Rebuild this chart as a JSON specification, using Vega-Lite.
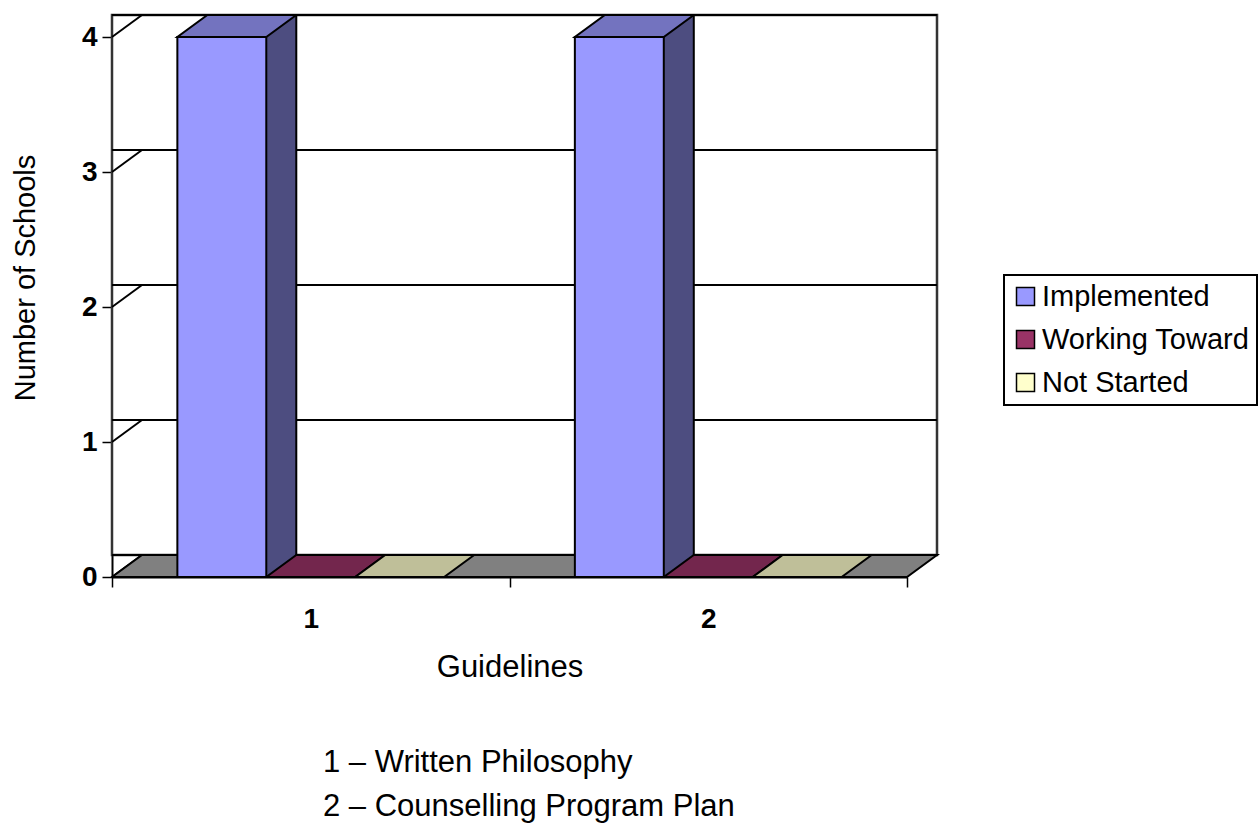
{
  "$schema": "https://vega.github.io/schema/vega-lite/v6.json",
  "width": 795,
  "height": 540,
  "autosize": {"type": "none"},
  "padding": {"left": 112, "top": 37, "right": 352, "bottom": 248},
  "background": "white",
  "datasets": {
    "schools": [
      {"guideline": "1", "status": "Implemented", "count": 4},
      {"guideline": "1", "status": "Working Toward", "count": 0},
      {"guideline": "1", "status": "Not Started", "count": 0},
      {"guideline": "2", "status": "Implemented", "count": 4},
      {"guideline": "2", "status": "Working Toward", "count": 0},
      {"guideline": "2", "status": "Not Started", "count": 0}
    ],
    "levels": [
      {"level": 0}, {"level": 1}, {"level": 2}, {"level": 3}, {"level": 4}
    ]
  },
  "title": {
    "text": ["1 – Written Philosophy", "2 – Counselling Program Plan"],
    "orient": "bottom",
    "anchor": "start",
    "frame": "group",
    "align": "left",
    "baseline": "top",
    "dx": 211,
    "offset": 66,
    "fontSize": 31,
    "fontWeight": "normal",
    "font": "Liberation Sans",
    "color": "black",
    "lineHeight": 43.5
  },
  "layer": [
    {
      "data": {"name": "levels"},
      "transform": [{"filter": "datum.level == 4"}],
      "mark": {"type": "rect", "fill": "white", "stroke": "#333333", "strokeWidth": 2.5, "xOffset": 30, "x2Offset": 30, "yOffset": -22, "y2Offset": -22},
      "encoding": {
        "y": {"field": "level", "type": "quantitative", "title": "Number of Schools", "scale": {"domain": [0, 4], "nice": false}},
        "y2": {"datum": 0}
      }
    },
    {
      "data": {"name": "levels"},
      "mark": {"type": "rule", "stroke": "black", "strokeWidth": 2, "xOffset": 30, "x2Offset": 30, "yOffset": -22, "y2Offset": -22},
      "encoding": {
        "y": {"field": "level", "type": "quantitative", "title": "Number of Schools"}
      }
    },
    {
      "data": {"name": "levels"},
      "mark": {"type": "point", "shape": "M0,0 L30,-22", "size": 4, "filled": false, "stroke": "black", "strokeWidth": 2, "opacity": 1},
      "encoding": {
        "x": {"datum": "1", "type": "nominal", "bandPosition": 0, "title": "Guidelines"},
        "y": {"field": "level", "type": "quantitative", "title": "Number of Schools"}
      }
    },
    {
      "data": {"name": "levels"},
      "transform": [{"filter": "datum.level == 0"}],
      "mark": {"type": "point", "shape": "M0,0 L795,0 L825,-22 L30,-22 Z", "size": 4, "filled": true, "fill": "#808080", "stroke": "black", "strokeWidth": 2, "opacity": 1},
      "encoding": {
        "x": {"datum": "1", "type": "nominal", "bandPosition": 0, "title": "Guidelines"},
        "y": {"field": "level", "type": "quantitative", "title": "Number of Schools"}
      }
    },
    {
      "data": {"name": "schools"},
      "transform": [{"filter": "datum.count > 0"}],
      "mark": {"type": "bar", "stroke": "black", "strokeWidth": 2, "yOffset": -22},
      "encoding": {
        "x": {"field": "guideline", "type": "nominal", "title": "Guidelines"},
        "xOffset": {"field": "status", "type": "nominal", "scale": {"type": "band", "domain": ["Implemented", "Working Toward", "Not Started"], "range": [30, 427.5], "paddingInner": 0, "paddingOuter": 0.735}},
        "y": {"field": "count", "type": "quantitative", "stack": null, "title": "Number of Schools"},
        "fill": {"field": "status", "type": "nominal", "scale": {"domain": ["Implemented", "Working Toward", "Not Started"], "range": ["#4D4D80", "#4D1A33", "#808066"]}, "legend": null}
      }
    },
    {
      "data": {"name": "schools"},
      "mark": {"type": "bar", "stroke": "black", "strokeWidth": 2},
      "encoding": {
        "x": {"field": "guideline", "type": "nominal", "title": "Guidelines"},
        "xOffset": {"field": "status", "type": "nominal", "scale": {"type": "band", "domain": ["Implemented", "Working Toward", "Not Started"], "range": [0, 397.5], "paddingInner": 0, "paddingOuter": 0.735}},
        "y": {"field": "count", "type": "quantitative", "stack": null, "title": "Number of Schools"},
        "fill": {"field": "status", "type": "nominal", "scale": {"domain": ["Implemented", "Working Toward", "Not Started"], "range": ["#9999FF", "#993366", "#FFFFCC"]}, "legend": {"title": null}}
      }
    },
    {
      "data": {"name": "schools"},
      "mark": {"type": "point", "shape": "M-44.46,0 L44.46,0 L74.46,-22 L-14.46,-22 Z", "size": 4, "filled": true, "stroke": "black", "strokeWidth": 2, "opacity": 1},
      "encoding": {
        "x": {"field": "guideline", "type": "nominal", "title": "Guidelines"},
        "xOffset": {"field": "status", "type": "nominal", "scale": {"type": "band", "domain": ["Implemented", "Working Toward", "Not Started"], "range": [0, 397.5], "paddingInner": 0, "paddingOuter": 0.735}},
        "y": {"field": "count", "type": "quantitative", "title": "Number of Schools"},
        "fill": {"field": "status", "type": "nominal", "scale": {"domain": ["Implemented", "Working Toward", "Not Started"], "range": ["#7373BF", "#73264D", "#BFBF99"]}, "legend": null}
      }
    }
  ],
  "resolve": {"scale": {"fill": "independent", "xOffset": "independent"}},
  "config": {
    "view": {"stroke": null},
    "font": "Liberation Sans",
    "axis": {
      "domainColor": "black",
      "tickColor": "black",
      "labelColor": "black",
      "titleColor": "black",
      "grid": false,
      "labelFont": "Liberation Sans",
      "titleFont": "Liberation Sans",
      "zindex": 1
    },
    "axisX": {
      "tickBand": "extent",
      "domainWidth": 2,
      "tickWidth": 1.5,
      "tickSize": 10,
      "labelFontSize": 28,
      "labelFontWeight": "bold",
      "labelAngle": 0,
      "labelBaseline": "alphabetic",
      "labelPadding": 40,
      "titleFontSize": 31,
      "titleFontWeight": "normal",
      "titleBaseline": "alphabetic",
      "titleY": 99
    },
    "axisY": {
      "domainWidth": 2,
      "tickWidth": 1.5,
      "tickSize": 10,
      "tickCount": 4,
      "labelFontSize": 28,
      "labelFontWeight": "bold",
      "labelPadding": 5,
      "labelFlush": false,
      "labelOverlap": false,
      "titleFontSize": 29,
      "titleFontWeight": "normal",
      "titleAngle": 270,
      "titleBaseline": "middle",
      "titleAlign": "center",
      "titleX": -87,
      "titleY": 240.5
    },
    "legend": {
      "orient": "none",
      "legendX": 892,
      "legendY": 238,
      "padding": 7,
      "strokeColor": "black",
      "strokeWidth": 2,
      "fillColor": "white",
      "symbolType": "square",
      "symbolSize": 324,
      "symbolStrokeColor": "black",
      "symbolStrokeWidth": 1.5,
      "labelFont": "Liberation Sans",
      "labelFontSize": 29,
      "labelLimit": 400,
      "labelColor": "black",
      "labelOffset": 2,
      "rowPadding": 13
    }
  }
}
